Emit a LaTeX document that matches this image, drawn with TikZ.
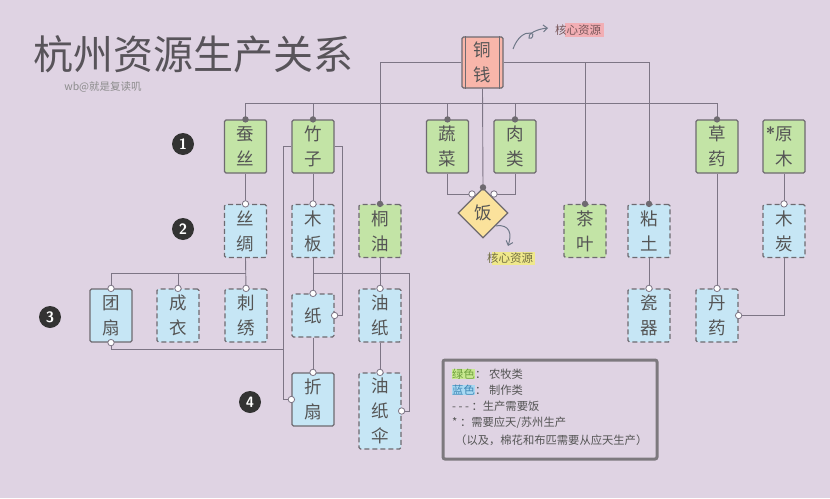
\documentclass[tikz,border=0pt]{standalone}
\usepackage{fontspec}
\setmainfont{Noto Sans CJK SC}
\usetikzlibrary{shapes.geometric,arrows.meta}
\definecolor{bgc}{HTML}{DFD3E3}
\definecolor{gfc}{HTML}{C3E4A6}
\definecolor{bfc}{HTML}{C6E6F5}
\definecolor{pfc}{HTML}{F8B6AA}
\definecolor{yfc}{HTML}{FBE29C}
\definecolor{bdc}{HTML}{6E6A70}
\definecolor{lnc}{HTML}{7D7585}
\definecolor{txc}{HTML}{555555}
\definecolor{ttc}{HTML}{58545A}
\definecolor{arc}{HTML}{6F7888}
\definecolor{pinkhl}{HTML}{F2AEB4}
\definecolor{yelhl}{HTML}{EFE88C}
\definecolor{grnhl}{HTML}{C8E890}
\definecolor{grntx}{HTML}{6FA040}
\definecolor{bluhl}{HTML}{A9D9F2}
\definecolor{blutx}{HTML}{3F86B5}
\newcommand\mkdot[1]{\fill[bdc] (#1) circle (3.2pt);}
\newcommand\mkopen[1]{\filldraw[fill=white,draw=lnc,line width=0.8pt] (#1) circle (3.2pt);}
\begin{document}
\begin{tikzpicture}[x=1pt,y=-1pt,
  box/.style={draw=bdc,line width=1.2pt,rounded corners=1.5pt,minimum width=42,minimum height=53,inner sep=0pt,
    font=\fontsize{17.5}{25}\selectfont,text=txc,align=center},
  gbox/.style={box,fill=gfc},
  bbox/.style={box,fill=bfc},
  dsh/.style={dash pattern=on 5pt off 3pt},
  conn/.style={draw=lnc,line width=0.9pt},
  numc/.style={circle,fill=black!80,text=white,minimum size=22,inner sep=0pt,font=\sffamily\bfseries\fontsize{15}{15}\selectfont},
  lg/.style={anchor=west,inner sep=0pt,text=txc,font=\fontsize{11.3}{12}\selectfont},
]
\fill[bgc] (0,0) rectangle (830,498);
\useasboundingbox (0,0) rectangle (830,498);

% title
\node[text=ttc,font=\fontsize{40}{42}\selectfont,inner sep=0pt] (title) at (194,54) {杭州资源生产关系};
\node[text=black!45,font=\fontsize{10.5}{12}\selectfont,inner sep=0pt] (sub) at (103,87) {wb@就是复读叽};

% numbers
\node[numc] (n1) at (183,144) {1};
\node[numc] (n2) at (183,229) {2};
\node[numc] (n3) at (50,317) {3};
\node[numc] (n4) at (250,402) {4};

% top node
\node[box,fill=pfc,minimum width=41,minimum height=51] (tq) at (482.5,62.5) {铜\\钱};
\draw[bdc,line width=1pt] ([xshift=4pt]tq.north west) -- ([xshift=4pt]tq.south west);
\draw[bdc,line width=1pt] ([xshift=-4pt]tq.north east) -- ([xshift=-4pt]tq.south east);

% row 1
\node[gbox] (cansi) at (245.5,146.5) {蚕\\丝};
\node[gbox] (zhuzi) at (313,146.5) {竹\\子};
\node[gbox] (shucai) at (447.5,146.5) {蔬\\菜};
\node[gbox] (roulei) at (515,146.5) {肉\\类};
\node[gbox] (caoyao) at (717,146.5) {草\\药};
\node[gbox] (yuanmu) at (784,146.5) {\llap{\raisebox{1pt}{\sffamily\bfseries\fontsize{17}{17}\selectfont *}}原\\木};

% row 2
\node[bbox,dsh] (sichou) at (245.5,231) {丝\\绸};
\node[bbox,dsh] (muban) at (313,231) {木\\板};
\node[gbox,dsh] (tongyou) at (380,231) {桐\\油};
\node[gbox,dsh] (chaye) at (585,231) {茶\\叶};
\node[bbox,dsh] (niantu) at (649,231) {粘\\土};
\node[bbox,dsh] (mutan) at (784,231) {木\\炭};
\node[diamond,draw=bdc,line width=1.2pt,fill=yfc,minimum width=50,minimum height=50,inner sep=0pt,
  font=\fontsize{17.5}{20}\selectfont,text=txc] (fan) at (483,213) {饭};

% row 3
\node[bbox] (tuanshan) at (111,315.5) {团\\扇};
\node[bbox,dsh] (chengyi) at (178,315.5) {成\\衣};
\node[bbox,dsh] (cixiu) at (246,315.5) {刺\\绣};
\node[bbox,dsh,minimum height=43] (zhi) at (313,315.5) {纸};
\node[bbox,dsh] (youzhi) at (380,315.5) {油\\纸};
\node[bbox,dsh] (ciqi) at (649,315.5) {瓷\\器};
\node[bbox,dsh] (danyao) at (717,315.5) {丹\\药};

% row 4
\node[bbox] (zheshan) at (313,399.5) {折\\扇};
\node[bbox,dsh,minimum height=76] (youzhisan) at (380,411) {油\\纸\\伞};

% coordinates
\coordinate (busL) at (245.5,103);
\coordinate (busR) at (717,103);
\coordinate (sj) at (245.5,273);
\coordinate (mbj) at (313,273);
\coordinate (tsj) at (284,349);
\coordinate (fanL) at (472,194);
\coordinate (fanR) at (494,194);

% connectors from tq
\draw[conn] (tq.west) -| (tongyou.north);
\draw[conn] (tq.east) -| (niantu.north);
\draw[conn] (chaye.north) -- (chaye.north |- tq.east);
\draw[conn] (tq.south) -- (fan.north);
\draw[conn] (busL) -- (busR);
\draw[conn] (busL) -- (cansi.north);
\draw[conn] (zhuzi.north |- busL) -- (zhuzi.north);
\draw[conn] (shucai.north |- busL) -- (shucai.north);
\draw[conn] (roulei.north |- busL) -- (roulei.north);
\draw[conn] (busR) -- (caoyao.north);

% food
\draw[conn] (shucai.south) |- (fanL);
\draw[conn] (roulei.south) |- (fanR);

% silk
\draw[conn] (cansi.south) -- (sichou.north);
\draw[conn] (sichou.south) -- (cixiu.north);
\draw[conn] (sj) -| (tuanshan.north);
\draw[conn] (sj) -| (chengyi.north);

% bamboo
\draw[conn] (zhuzi.south) -- (muban.north);
\draw[conn] (zhuzi.west) -- ++(-8,0) |- (zheshan.west);
\draw[conn] (tuanshan.south) |- (tsj);
\draw[conn] (zhuzi.east) -- ++(8,0) |- (zhi.east);
\draw[conn] (muban.south) -- (zhi.north);
\draw[conn] (mbj) -- ++(96,0) |- (youzhisan.east);
\draw[conn] (zhi.south) -- (zheshan.north);

% oil
\draw[conn] (tongyou.south) -- (youzhi.north);
\draw[conn] (youzhi.south) -- (youzhisan.north);

% others
\draw[conn] (niantu.south) -- (ciqi.north);
\draw[conn] (caoyao.south) -- (danyao.north);
\draw[conn] (yuanmu.south) -- (mutan.north);
\draw[conn] (mutan.south) |- (danyao.east);

% dots
\mkdot{cansi.north}
\mkdot{zhuzi.north}
\mkdot{shucai.north}
\mkdot{roulei.north}
\mkdot{caoyao.north}
\mkdot{tongyou.north}
\mkdot{chaye.north}
\mkdot{niantu.north}
\mkdot{fan.north}
\mkopen{fanL}
\mkopen{fanR}
\mkopen{sichou.north}
\mkopen{muban.north}
\mkopen{mutan.north}
\mkopen{tuanshan.north}
\mkopen{chengyi.north}
\mkopen{cixiu.north}
\mkopen{tuanshan.south}
\mkopen{zhi.north}
\mkopen{zhi.east}
\mkopen{zheshan.west}
\mkopen{zheshan.north}
\mkopen{youzhi.north}
\mkopen{youzhisan.north}
\mkopen{youzhisan.east}
\mkopen{ciqi.north}
\mkopen{danyao.north}
\mkopen{danyao.east}

% annotations
\fill[pinkhl] (565,23) rectangle (604,37);
\node[text=black!45!pinkhl!90!black,font=\fontsize{11.5}{12}\selectfont,inner sep=0pt] (hx1) at (578,30) {核心资源};
\draw[arc,line width=1pt,-{Straight Barb[length=4pt,width=7pt]}] (513,49) .. controls (517,38) and (524,32) .. (531,33)
  .. controls (535,34) and (532,40) .. (529,38) .. controls (527,34) and (537,29) .. (548,28);
\fill[yelhl] (492,252) rectangle (535,265);
\node[text=black!40!yelhl!80!black,font=\fontsize{11.5}{12}\selectfont,inner sep=0pt] (hx2) at (510,258) {核心资源};
\draw[arc,line width=1pt,-{Straight Barb[length=4pt,width=7pt]}] (fan.south east) .. controls (510,224) and (512,234) .. (508,246);

% legend
\node[draw=bdc!90,line width=3pt,rounded corners=2pt,minimum width=214,minimum height=99,inner sep=0pt] (legend) at (550,409.5) {};
\node[lg,fill=grnhl,text=grntx] (l1a) at (452,374) {绿色};
\node[lg] (l1b) at (l1a.east) {： 农牧类};
\node[lg,fill=bluhl,text=blutx] (l2a) at (452,390) {蓝色};
\node[lg] (l2b) at (l2a.east) {： 制作类};
\node[lg] (l3) at (452,406) {- - - ：生产需要饭};
\node[lg] (l4) at (452,423) {* ：需要应天/苏州生产};
\node[lg] (l5) at (455,440) {（以及，棉花和布匹需要从应天生产）};
\end{tikzpicture}
\end{document}
